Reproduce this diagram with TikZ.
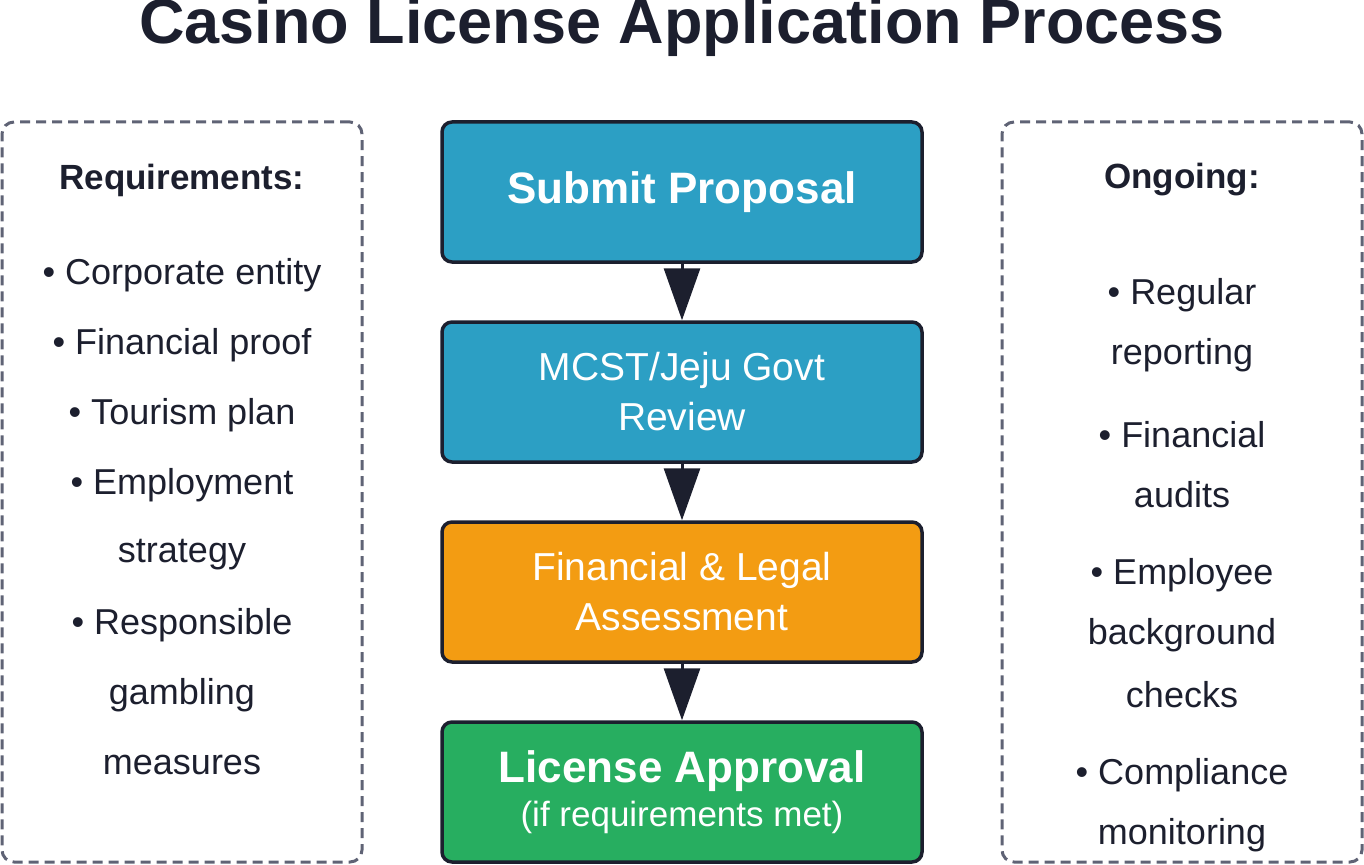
\documentclass[tikz,border=0pt]{standalone}
\usepackage{fontspec}
\setmainfont{Liberation Sans}
\usetikzlibrary{arrows.meta}
\definecolor{ink}{HTML}{1C1F2E}
\definecolor{bl}{HTML}{2C9FC4}
\definecolor{orng}{HTML}{F39C12}
\definecolor{grn}{HTML}{27AE60}
\definecolor{dgray}{HTML}{5F6375}
\begin{document}
\begin{tikzpicture}[x=1pt,y=-1pt,
 stepbox/.style={draw=ink,line width=3.5pt,rounded corners=10pt,minimum width=480pt,minimum height=140pt,text=white,align=center,inner sep=0pt},
 side/.style={draw=dgray,line width=3pt,dash pattern=on 10pt off 6pt,rounded corners=12pt,minimum width=360pt,minimum height=740pt},
 arr/.style={ink,line width=3pt,-{Triangle[width=36pt,length=52pt]}},
 lbl/.style={text=ink,font=\fontsize{36}{42}\selectfont,anchor=center,inner sep=0pt}]
\useasboundingbox (0,0) rectangle (1364,864);
\node[text=ink,font=\fontsize{63}{70}\selectfont\bfseries,inner sep=0pt] (title) at (682,27) {Casino License Application Process};
\node[stepbox,fill=bl,font=\fontsize{44}{50}\selectfont\bfseries] (s1) at (682,192) {Submit Proposal};
\node[stepbox,fill=bl,font=\fontsize{39}{50}\selectfont] (s2) at (682,392) {MCST/Jeju Govt\\Review};
\node[stepbox,fill=orng,font=\fontsize{39}{50}\selectfont] (s3) at (682,592) {Financial \& Legal\\Assessment};
\node[stepbox,fill=grn] (s4) at (682,792) {{\fontsize{44}{50}\selectfont\bfseries License Approval}\\[8pt]{\fontsize{35}{40}\selectfont (if requirements met)}};
\draw[arr] (s1) -- (s2);
\draw[arr] (s2) -- (s3);
\draw[arr] (s3) -- (s4);
\node[side] (L) at (182,492) {};
\node[side] (R) at (1182,492) {};
\node[lbl,font=\fontsize{35}{40}\selectfont\bfseries] (lt) at (182,180) {Requirements:};
\node[lbl] (l1) at (182,275) {• Corporate entity};
\node[lbl] (l2) at (182,345) {• Financial proof};
\node[lbl] (l3) at (182,415) {• Tourism plan};
\node[lbl] (l4) at (182,485) {• Employment};
\node[lbl] (l5) at (182,555) {strategy};
\node[lbl] (l6) at (182,625) {• Responsible};
\node[lbl] (l7) at (182,695) {gambling};
\node[lbl] (l8) at (182,765) {measures};
\node[lbl,font=\fontsize{35}{40}\selectfont\bfseries] (rt) at (1182,180) {Ongoing:};
\node[lbl] (r1) at (1182,295) {• Regular};
\node[lbl] (r2) at (1182,355) {reporting};
\node[lbl] (r3) at (1182,435) {• Financial};
\node[lbl] (r4) at (1182,495) {audits};
\node[lbl] (r5) at (1182,575) {• Employee};
\node[lbl] (r6) at (1182,635) {background};
\node[lbl] (r7) at (1182,695) {checks};
\node[lbl] (r8) at (1182,775) {• Compliance};
\node[lbl] (r9) at (1182,835) {monitoring};
\end{tikzpicture}
\end{document}
